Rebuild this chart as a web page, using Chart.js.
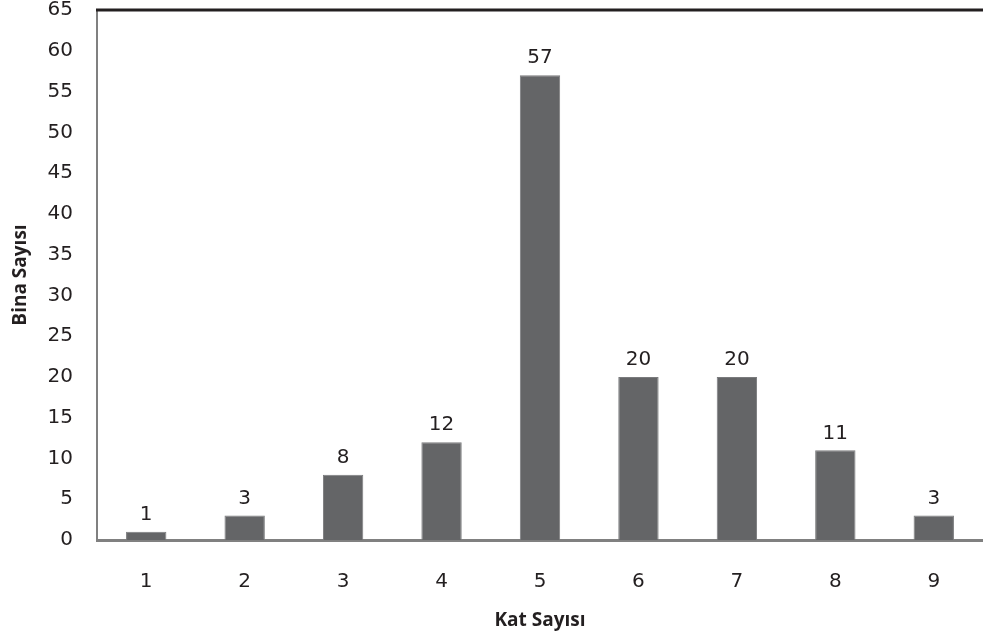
<!DOCTYPE html>
<html>
<head>
<meta charset="utf-8">
<script src="https://cdn.jsdelivr.net/npm/chart.js@4"></script>
<style>
  html, body { margin: 0; padding: 0; background: #fff; overflow: hidden; }
  #wrap { width: 983px; height: 662px; margin-top: -26px; }
</style>
</head>
<body>
<div id="wrap"><canvas id="katChart"></canvas></div>
<script>
// Kat sayısına göre bina sayısı
const katSayisi = ['1', '2', '3', '4', '5', '6', '7', '8', '9'];
const binaSayisi = [1, 3, 8, 12, 57, 20, 20, 11, 3];
const yMax = 65;
const yStep = 5;

const textColor = '#231f20';

// etiketleri çubukların üstüne yaz
const valueLabels = {
    id: 'valueLabels',
    afterDatasetsDraw(chart) {
        const c = chart.ctx;
        const meta = chart.getDatasetMeta(0);
        c.save();
        c.font = '20px "DejaVu Sans"';
        c.fillStyle = textColor;
        c.textAlign = 'center';
        c.textBaseline = 'bottom';
        meta.data.forEach((bar, i) => {
            c.fillText(binaSayisi[i], bar.x, bar.y - 7);
        });
        c.restore();
    }
};

// üst çerçeve çizgisi
const topBorder = {
    id: 'topBorder',
    afterDraw(chart) {
        const a = chart.chartArea;
        const c = chart.ctx;
        c.save();
        c.strokeStyle = '#231f20';
        c.lineWidth = 3;
        c.beginPath();
        c.moveTo(a.left - 1, a.top);
        c.lineTo(chart.width, a.top);
        c.stroke();
        c.restore();
    }
};

new Chart(document.getElementById('katChart'), {
    type: 'bar',
    data: {
        labels: katSayisi,
        datasets: [{
            data: binaSayisi,
            backgroundColor: '#646567',
            borderColor: '#7a7b7d',
            borderWidth: 1,
            barPercentage: 0.41,
            categoryPercentage: 1
        }]
    },
    options: {
        responsive: true,
        maintainAspectRatio: false,
        animation: false,
        layout: { padding: 0 },
        plugins: {
            legend: { display: false },
            tooltip: { enabled: false }
        },
        scales: {
            x: {
                grid: { display: false, drawTicks: false },
                border: { display: true, color: '#808080', width: 3 },
                ticks: { color: textColor, font: { family: 'DejaVu Sans', size: 20 }, padding: 30 },
                title: {
                    display: true,
                    text: 'Kat Sayısı',
                    color: textColor,
                    font: { family: 'Open Sans', size: 19, weight: 'bold' },
                    padding: { top: 10, bottom: 4 }
                },
                afterFit: s => { s.height = 96; }
            },
            y: {
                min: 0,
                max: yMax,
                grid: { display: false, drawTicks: false },
                border: { display: true, color: '#808080', width: 2 },
                ticks: { stepSize: yStep, color: textColor, font: { family: 'DejaVu Sans', size: 20 }, padding: 24 },
                title: {
                    display: true,
                    text: 'Bina Sayısı',
                    color: textColor,
                    font: { family: 'Open Sans', size: 19, weight: 'bold' },
                    padding: { top: 9, bottom: 0 }
                },
                afterFit: s => { s.width = 97; }
            }
        }
    },
    plugins: [valueLabels, topBorder]
});
</script>
</body>
</html>
